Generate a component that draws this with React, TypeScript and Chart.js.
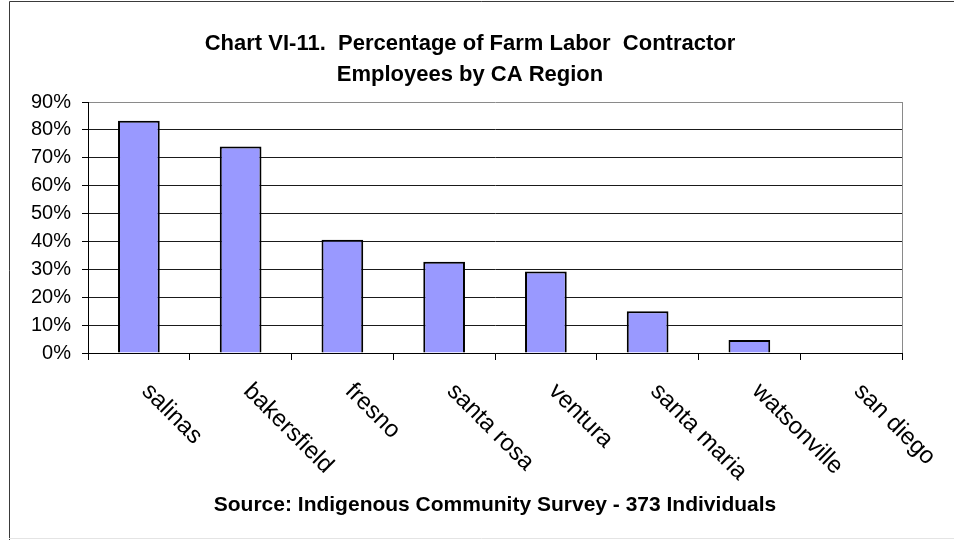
import React, { useEffect, useRef } from "react";
import { Chart, registerables } from "chart.js";

Chart.register(...registerables);

const categories = [
  "salinas",
  "bakersfield",
  "fresno",
  "santa rosa",
  "ventura",
  "santa maria",
  "watsonville",
  "san diego",
];
const percentages = [83.3, 74, 40.6, 32.7, 29.2, 15, 4.7, 0];
const yMin = 0;
const yMax = 90;
const yStep = 10;
const titleLines = [
  "Chart VI-11.  Percentage of Farm Labor  Contractor",
  "Employees by CA Region",
];
const sourceNote = "Source: Indigenous Community Survey - 373 Individuals";

const FONT = '"Liberation Sans", Arial, Helvetica, sans-serif';

const decorPlugin = {
  id: "decor",
  beforeDraw(chart: any) {
    const { ctx } = chart;
    ctx.save();
    ctx.fillStyle = "#ffffff";
    ctx.fillRect(0, 0, chart.width, chart.height);
    ctx.lineWidth = 1;
    ctx.strokeStyle = "#3a3a3a";
    ctx.beginPath();
    ctx.moveTo(9.5, 540);
    ctx.lineTo(9.5, 1.5);
    ctx.lineTo(954, 1.5);
    ctx.stroke();
    ctx.strokeStyle = "#e4e4e4";
    ctx.beginPath();
    ctx.moveTo(9, 538.5);
    ctx.lineTo(954, 538.5);
    ctx.stroke();
    ctx.restore();
  },
  afterDraw(chart: any) {
    const { ctx, chartArea, scales } = chart;
    ctx.save();
    // right border of plot area
    ctx.strokeStyle = "#8a8a8a";
    ctx.lineWidth = 1;
    const rx = Math.round(chartArea.right) + 0.5;
    ctx.beginPath();
    ctx.moveTo(rx, chartArea.top);
    ctx.lineTo(rx, chartArea.bottom);
    ctx.stroke();

    // title
    ctx.fillStyle = "#000";
    ctx.textAlign = "center";
    ctx.textBaseline = "alphabetic";
    ctx.font = `bold 22px ${FONT}`;
    ctx.fillText(titleLines[0], 470, 50);
    ctx.fillText(titleLines[1], 470, 81);

    // rotated category labels
    ctx.font = `24px ${FONT}`;
    ctx.textAlign = "left";
    ctx.textBaseline = "top";
    categories.forEach((c, i) => {
      const x = scales.x.getPixelForValue(i);
      ctx.save();
      ctx.translate(x + 15, 379);
      ctx.rotate(Math.PI / 4);
      ctx.fillText(c, 0, 0);
      ctx.restore();
    });

    // source note
    ctx.font = `bold 21px ${FONT}`;
    ctx.textAlign = "center";
    ctx.textBaseline = "alphabetic";
    ctx.fillText(sourceNote, 495, 511);
    ctx.restore();
  },
};

export default function App() {
  const ref = useRef<HTMLCanvasElement | null>(null);

  useEffect(() => {
    if (!ref.current) return;
    const chart = new Chart(ref.current, {
      type: "bar",
      data: {
        labels: categories,
        datasets: [
          {
            data: percentages,
            backgroundColor: "#9999FF",
            borderColor: "#000000",
            borderWidth: 2,
            barPercentage: 0.41,
            categoryPercentage: 1,
          },
        ],
      },
      options: {
        animation: false,
        responsive: false,
        devicePixelRatio: 1,
        layout: { padding: { top: 102, right: 52, bottom: 0, left: 0 } },
        plugins: {
          legend: { display: false },
          tooltip: { enabled: false },
          title: { display: false },
        },
        scales: {
          x: {
            offset: true,
            ticks: { display: false },
            grid: {
              offset: true,
              drawOnChartArea: false,
              drawTicks: true,
              tickLength: 7,
              color: "#000",
            },
            border: { color: "#000", width: 1 },
            afterFit: (scale: any) => {
              scale.height = 187;
            },
          },
          y: {
            min: yMin,
            max: yMax,
            ticks: {
              stepSize: yStep,
              padding: 11,
              color: "#000",
              font: { family: FONT, size: 20 },
              callback: (v: any) => `${v}%`,
            },
            grid: {
              color: (ctx: any) =>
                ctx.tick && ctx.tick.value === yMax ? "#8a8a8a" : "#1a1a1a",
              tickColor: "#000",
              tickLength: 6,
              drawTicks: true,
            },
            border: { color: "#000", width: 1 },
            afterFit: (scale: any) => {
              scale.width = 88;
            },
          },
        },
      },
      plugins: [decorPlugin],
    });
    return () => chart.destroy();
  }, []);

  return (
    <div
      style={{
        position: "absolute",
        left: 0,
        top: 0,
        width: 954,
        height: 540,
        background: "#fff",
      }}
    >
      <canvas
        ref={ref}
        width={954}
        height={540}
        style={{ display: "block", width: 954, height: 540 }}
      />
    </div>
  );
}
